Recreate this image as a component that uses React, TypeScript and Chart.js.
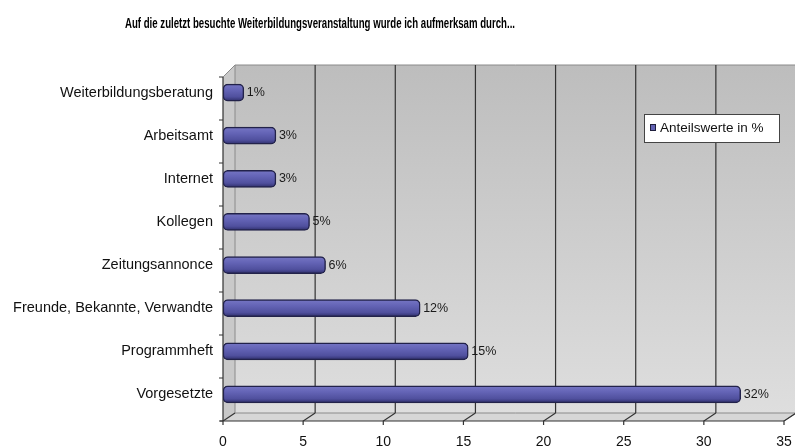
import React, { useEffect, useRef } from 'react';
import { Chart, registerables } from 'chart.js';
Chart.register(...registerables);

const chartTitle = 'Auf die zuletzt besuchte Weiterbildungsveranstaltung wurde ich aufmerksam durch...';
const categories = [
  'Weiterbildungsberatung',
  'Arbeitsamt',
  'Internet',
  'Kollegen',
  'Zeitungsannonce',
  'Freunde, Bekannte, Verwandte',
  'Programmheft',
  'Vorgesetzte',
];
const values = [1.3, 3.3, 3.3, 5.4, 6.4, 12.3, 15.3, 32.3];
const percentLabels = ['1%', '3%', '3%', '5%', '6%', '12%', '15%', '32%'];
const seriesName = 'Anteilswerte in %';
const xMin = 0;
const xMax = 35;
const xStep = 5;

const FONT = 'Arial, "Liberation Sans", sans-serif';
const DX = 12;
const DY_TOP = 6;
const DY_BOT = 5;
const BAR_T = 17;

const frame3d = {
  id: 'frame3d',
  beforeDatasetsDraw(chart: any) {
    const { ctx, chartArea, scales } = chart;
    const x = scales.x;
    const L = x.getPixelForValue(xMin);
    const R = x.getPixelForValue(xMax);
    const T = chartArea.top;
    const B = chartArea.bottom;
    const frontTop = T + DY_TOP;
    const frontBot = B + DY_BOT;
    const backTop = frontTop - DX;
    const backBot = frontBot - 8;
    ctx.save();
    const g = ctx.createLinearGradient(0, backTop, 0, backBot);
    g.addColorStop(0, '#bdbdbd');
    g.addColorStop(1, '#dedede');
    ctx.fillStyle = g;
    ctx.fillRect(L + DX, backTop, R - L + 4, backBot - backTop);
    ctx.fillStyle = '#c9c9c9';
    ctx.beginPath();
    ctx.moveTo(L, frontTop);
    ctx.lineTo(L + DX, backTop);
    ctx.lineTo(L + DX, backBot);
    ctx.lineTo(L, frontBot);
    ctx.closePath();
    ctx.fill();
    ctx.fillStyle = '#d6d6d6';
    ctx.beginPath();
    ctx.moveTo(L, frontBot);
    ctx.lineTo(L + DX, backBot);
    ctx.lineTo(R + DX, backBot);
    ctx.lineTo(R, frontBot);
    ctx.closePath();
    ctx.fill();
    ctx.strokeStyle = '#8a8a8a';
    ctx.lineWidth = 1;
    ctx.beginPath();
    ctx.moveTo(L, frontTop);
    ctx.lineTo(L + DX, backTop);
    ctx.lineTo(R + DX + 4, backTop);
    ctx.moveTo(L + DX, backTop);
    ctx.lineTo(L + DX, backBot);
    ctx.lineTo(R + DX, backBot);
    ctx.lineTo(R, frontBot);
    ctx.stroke();
    ctx.strokeStyle = '#333333';
    ctx.lineWidth = 1.2;
    for (let v = xMin; v <= xMax; v += xStep) {
      const px = x.getPixelForValue(v);
      ctx.beginPath();
      if (v > xMin && v < xMax) {
        ctx.moveTo(px + DX, backTop);
        ctx.lineTo(px + DX, backBot);
      }
      ctx.moveTo(px + DX, backBot);
      ctx.lineTo(px, frontBot);
      ctx.lineTo(px, frontBot + 4);
      ctx.stroke();
    }
    ctx.beginPath();
    ctx.moveTo(L - 3, frontBot);
    ctx.lineTo(R, frontBot);
    ctx.stroke();
    ctx.beginPath();
    ctx.moveTo(L, frontTop);
    ctx.lineTo(L, frontBot);
    const n = categories.length;
    for (let i = 0; i <= n; i++) {
      const yy = T + ((B - T) * i) / n + DY_TOP * (1 - i / n) + DY_BOT * (i / n);
      ctx.moveTo(L - 4, yy);
      ctx.lineTo(L, yy);
    }
    ctx.stroke();
    ctx.restore();
  },
  afterDatasetsDraw(chart: any) {
    const { ctx } = chart;
    const meta = chart.getDatasetMeta(0);
    ctx.save();
    ctx.fillStyle = '#1a1a1a';
    ctx.font = '12.5px ' + FONT;
    ctx.textAlign = 'left';
    ctx.textBaseline = 'middle';
    meta.data.forEach((bar: any, i: number) => {
      ctx.fillText(percentLabels[i], bar.x + 3, bar.y, 28);
    });
    ctx.restore();
  },
  afterDraw(chart: any) {
    const { ctx } = chart;
    ctx.save();
    ctx.fillStyle = '#000000';
    ctx.font = 'bold 15px ' + FONT;
    ctx.textAlign = 'center';
    ctx.textBaseline = 'middle';
    ctx.fillText(chartTitle, 320, 24, 390);
    const lx = 644, ly = 114, lw = 135, lh = 28;
    ctx.fillStyle = '#ffffff';
    ctx.fillRect(lx, ly, lw, lh);
    ctx.strokeStyle = '#444444';
    ctx.lineWidth = 1;
    ctx.strokeRect(lx + 0.5, ly + 0.5, lw, lh);
    ctx.fillStyle = '#6262b4';
    ctx.fillRect(lx + 6, ly + 10, 6, 7);
    ctx.strokeStyle = '#1e1e3c';
    ctx.strokeRect(lx + 6.5, ly + 10.5, 5, 6);
    ctx.fillStyle = '#111111';
    ctx.font = '13.5px ' + FONT;
    ctx.textAlign = 'left';
    ctx.fillText(seriesName, lx + 16, ly + 14.5, 116);
    ctx.restore();
  },
};

function barFill(c: any) {
  const chart = c.chart;
  const yScale = chart && chart.scales && chart.scales.y;
  if (!yScale || c.dataIndex === undefined || !isFinite(yScale.top)) return '#5e5eb0';
  const y = yScale.getPixelForValue(c.dataIndex);
  if (!isFinite(y)) return '#5e5eb0';
  const g = chart.ctx.createLinearGradient(0, y - BAR_T / 2, 0, y + BAR_T / 2);
  g.addColorStop(0, '#7676c4');
  g.addColorStop(0.35, '#6464b6');
  g.addColorStop(0.75, '#50509e');
  g.addColorStop(1, '#2e2e6a');
  return g;
}

export default function App() {
  const ref = useRef<HTMLCanvasElement | null>(null);
  useEffect(() => {
    const canvas = ref.current;
    if (!canvas) return;
    const chart = new Chart(canvas, {
      type: 'bar',
      data: {
        labels: categories,
        datasets: [
          {
            label: seriesName,
            data: values,
            backgroundColor: barFill as any,
            borderColor: '#22224a',
            borderWidth: 1.5,
            borderRadius: 5,
            borderSkipped: false,
            barThickness: BAR_T,
          },
        ],
      },
      options: {
        indexAxis: 'y',
        animation: false,
        responsive: false,
        maintainAspectRatio: false,
        layout: { padding: { top: 71, right: 11, left: 0, bottom: 0 } },
        plugins: {
          legend: { display: false },
          title: { display: false },
          tooltip: { enabled: false },
        },
        scales: {
          x: {
            min: xMin,
            max: xMax,
            ticks: {
              stepSize: xStep,
              color: '#111111',
              font: { family: FONT, size: 14 },
              padding: 18,
            },
            grid: { display: false, drawTicks: false },
            border: { display: false },
            afterFit: (s: any) => {
              s.height = 32;
              s.paddingRight = 0;
              s.paddingLeft = 0;
            },
          },
          y: {
            ticks: {
              color: '#111111',
              font: { family: FONT, size: 14.5 },
              padding: 10,
              autoSkip: false,
            },
            grid: { display: false, drawTicks: false },
            border: { display: false },
            afterFit: (s: any) => {
              s.width = 223;
              s.paddingTop = 0;
              s.paddingBottom = 0;
            },
          },
        },
      },
      plugins: [frame3d],
    });
    return () => chart.destroy();
  }, []);
  return (
    <div style={{ position: 'absolute', left: 0, top: 0, width: 795, height: 448, background: '#ffffff' }}>
      <canvas ref={ref} width={795} height={448} style={{ display: 'block' }} />
    </div>
  );
}
